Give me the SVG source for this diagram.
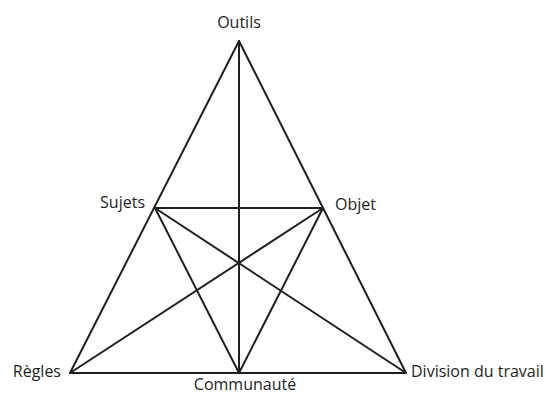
<svg xmlns="http://www.w3.org/2000/svg" width="546" height="394" viewBox="0 0 546 394">
<style>
.l{stroke:#231f20;stroke-width:2;fill:none;stroke-linecap:round}
text{font-family:"Open Sans","DejaVu Sans",sans-serif;font-size:16px;fill:#231f20}
</style>
<rect width="546" height="394" fill="#fff"/>
<g id="connectors">
<line class="l" x1="239" y1="41" x2="70" y2="373"/>
<line class="l" x1="239" y1="41" x2="406" y2="373"/>
<line class="l" x1="239" y1="41" x2="239" y2="373"/>
<line class="l" x1="70" y1="373" x2="406" y2="373"/>
<line class="l" x1="155" y1="208" x2="323" y2="208"/>
<line class="l" x1="70" y1="373" x2="323" y2="208"/>
<line class="l" x1="406" y1="373" x2="155" y2="208"/>
<line class="l" x1="155" y1="208" x2="239" y2="373"/>
<line class="l" x1="323" y1="208" x2="239" y2="373"/>
</g>
<g id="outils"><text x="239" y="28" text-anchor="middle">Outils</text></g>
<g id="sujets"><text x="145" y="208" text-anchor="end">Sujets</text></g>
<g id="objet"><text x="335" y="210">Objet</text></g>
<g id="regles"><text x="61" y="377" text-anchor="end">Règles</text></g>
<g id="division"><text x="411" y="377">Division du travail</text></g>
<g id="communaute"><text x="245" y="390" text-anchor="middle">Communauté</text></g>
</svg>
